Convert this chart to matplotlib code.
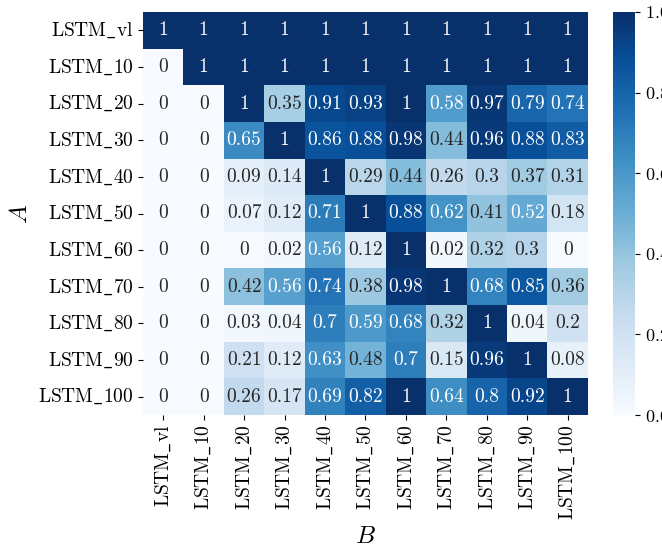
import matplotlib
matplotlib.use("Agg")

import matplotlib.pyplot as plt
import seaborn as sns
import numpy as np

plt.rcParams['mathtext.fontset'] = 'cm'
plt.rcParams['font.family'] = 'serif'
plt.rcParams['font.serif'] = ['cmr10', 'DejaVu Serif']
plt.rcParams['axes.formatter.use_mathtext'] = True

names = ["vl", "10", "20", "30", "40", "50", "60", "70", "80", "90", "100"]
labels = [r"$\mathrm{LSTM\_%s}$" % n for n in names]

row_vl  = [1, 1, 1, 1, 1, 1, 1, 1, 1, 1, 1]
row_10  = [0, 1, 1, 1, 1, 1, 1, 1, 1, 1, 1]
row_20  = [0, 0, 1, 0.35, 0.91, 0.93, 1, 0.58, 0.97, 0.79, 0.74]
row_30  = [0, 0, 0.65, 1, 0.86, 0.88, 0.98, 0.44, 0.96, 0.88, 0.83]
row_40  = [0, 0, 0.09, 0.14, 1, 0.29, 0.44, 0.26, 0.3, 0.37, 0.31]
row_50  = [0, 0, 0.07, 0.12, 0.71, 1, 0.88, 0.62, 0.41, 0.52, 0.18]
row_60  = [0, 0, 0, 0.02, 0.56, 0.12, 1, 0.02, 0.32, 0.3, 0]
row_70  = [0, 0, 0.42, 0.56, 0.74, 0.38, 0.98, 1, 0.68, 0.85, 0.36]
row_80  = [0, 0, 0.03, 0.04, 0.7, 0.59, 0.68, 0.32, 1, 0.04, 0.2]
row_90  = [0, 0, 0.21, 0.12, 0.63, 0.48, 0.7, 0.15, 0.96, 1, 0.08]
row_100 = [0, 0, 0.26, 0.17, 0.69, 0.82, 1, 0.64, 0.8, 0.92, 1]

M = np.array([row_vl, row_10, row_20, row_30, row_40, row_50,
              row_60, row_70, row_80, row_90, row_100])

fig = plt.figure(figsize=(6.62, 5.45), dpi=100)
ax = fig.add_axes([0.216, 0.2385, 0.672, 0.7395])
cax = fig.add_axes([0.926, 0.2385, 0.033, 0.7395])

sns.heatmap(M, ax=ax, cbar_ax=cax, cmap="Blues", vmin=0, vmax=1,
            annot=True, fmt=".2g", annot_kws={"fontsize": 14},
            xticklabels=labels, yticklabels=labels)

ax.tick_params(axis="both", labelsize=14)
ax.set_yticklabels(labels, rotation=0)
ax.set_xticklabels(labels, rotation=90)
ax.set_xlabel(r"$B$", fontsize=18)
ax.set_ylabel(r"$A$", fontsize=18)
cax.tick_params(labelsize=13)

plt.savefig("out.png")
